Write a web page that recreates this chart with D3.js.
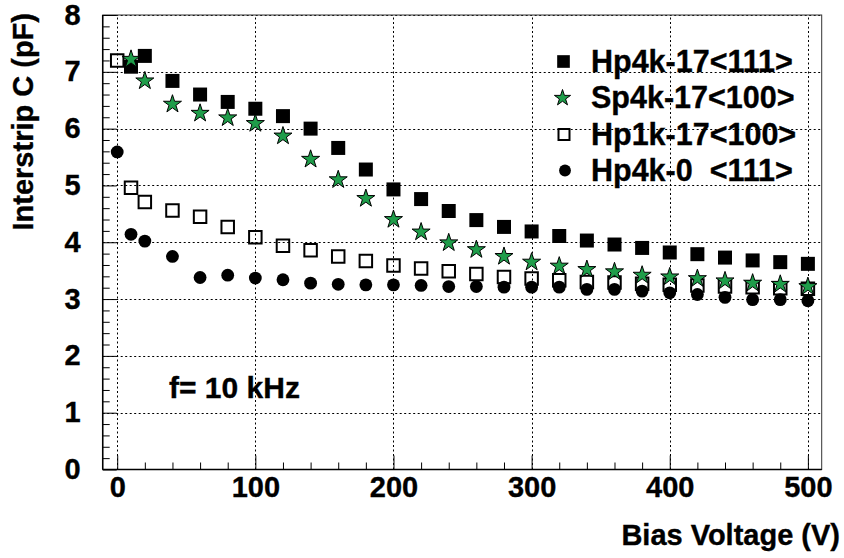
<!DOCTYPE html>
<html>
<head>
<meta charset="utf-8">
<script src="https://cdn.jsdelivr.net/npm/d3@7"></script>
<style>
  body { margin: 0; background: #fff; }
  text { font-family: "Liberation Sans", Arial, sans-serif; font-weight: bold; font-size: 29px;
         fill: #000; stroke: #000; stroke-width: 0.35px; }
</style>
</head>
<body>
<svg id="chart" width="844" height="558"></svg>
<script>
// Bias voltages (V) at which the interstrip capacitance was measured
const voltage = [0, 10, 20, 40, 60, 80, 100, 120, 140, 160, 180, 200, 220, 240, 260,
                 280, 300, 320, 340, 360, 380, 400, 420, 440, 460, 480, 500];
const voltageFrom10 = voltage.slice(1);

// Interstrip capacitance (pF) per sample
const hp4k17_111 = [7.09, 7.28, 6.84, 6.60, 6.47, 6.35, 6.22, 6.00, 5.66, 5.28, 4.93, 4.76, 4.55,
                    4.39, 4.27, 4.19, 4.11, 4.03, 3.96, 3.90, 3.82, 3.79, 3.73, 3.68, 3.65, 3.62];
const sp4k17_100 = [7.22, 6.84, 6.43, 6.27, 6.19, 6.09, 5.87, 5.46, 5.10, 4.77, 4.40, 4.18, 3.99,
                    3.87, 3.75, 3.65, 3.58, 3.52, 3.48, 3.42, 3.39, 3.36, 3.32, 3.28, 3.26, 3.22];
const hp1k17_100 = [7.20, 4.96, 4.71, 4.56, 4.45, 4.27, 4.09, 3.94, 3.86, 3.75, 3.67, 3.59, 3.54, 3.49,
                    3.44, 3.39, 3.36, 3.33, 3.30, 3.29, 3.27, 3.25, 3.24, 3.22, 3.21, 3.19, 3.18];
const hp4k0_111  = [5.59, 4.14, 4.02, 3.75, 3.38, 3.42, 3.37, 3.34, 3.28, 3.26, 3.25, 3.25, 3.24, 3.22,
                    3.22, 3.21, 3.21, 3.21, 3.17, 3.17, 3.14, 3.11, 3.08, 3.03, 2.99, 2.99, 2.97];

const seriesNames = ["Hp4k-17<111>", "Sp4k-17<100>", "Hp1k-17<100>", "Hp4k-0  <111>"];
const xMajorTicks = [0, 100, 200, 300, 400, 500];
const yMajorTicks = [0, 1, 2, 3, 4, 5, 6, 7, 8];
const xTitle = "Bias Voltage (V)";
const yTitle = "Interstrip C (pF)";
const note = "f= 10 kHz";

const svg = d3.select("#chart");
const x = d3.scaleLinear().domain([-10.5, 510]).range([102.7, 821.7]);
const y = d3.scaleLinear().domain([0, 8]).range([469.5, 15]);
const [x0, x1] = x.range();
const [yb, yt] = y.range();

// dotted grid
const grid = svg.append("g").attr("stroke", "#000").attr("stroke-width", 1)
  .attr("stroke-dasharray", "2,2.5");
grid.selectAll("line.v").data(xMajorTicks).join("line")
  .attr("x1", d => Math.round(x(d)) + 0.5).attr("x2", d => Math.round(x(d)) + 0.5)
  .attr("y1", yb).attr("y2", yt);
grid.selectAll("line.h").data(yMajorTicks.filter(d => d > 0)).join("line")
  .attr("x1", x0).attr("x2", x1)
  .attr("y1", d => Math.round(y(d)) + 0.5).attr("y2", d => Math.round(y(d)) + 0.5);

// frame
svg.append("rect").attr("x", x0).attr("y", yt).attr("width", x1 - x0).attr("height", yb - yt)
  .attr("fill", "none").attr("stroke", "#333").attr("stroke-width", 1);

// x axis: minor ticks every 20 V, major every 100 V (ticks point into the frame)
const xMinor = d3.range(0, 501, 20).filter(d => d % 100 !== 0);
svg.append("g").attr("transform", `translate(0,${yb})`)
  .call(d3.axisBottom(x).tickValues(xMinor).tickSize(-7).tickFormat(""))
  .call(g => g.select(".domain").remove());
const xAxis = svg.append("g").attr("transform", `translate(0,${yb})`)
  .call(d3.axisBottom(x).tickValues(xMajorTicks).tickSizeInner(-14).tickSizeOuter(0).tickPadding(7))
  .call(g => g.select(".domain").remove());
xAxis.selectAll("text").attr("font-size", null).attr("font-family", null);

// y axis: minor ticks every 0.2 pF
const yMinor = d3.range(0, 8.001, 0.2).filter(d => Math.abs(d - Math.round(d)) > 1e-6);
svg.append("g").attr("transform", `translate(${x0},0)`)
  .call(d3.axisLeft(y).tickValues(yMinor).tickSize(-7).tickFormat(""))
  .call(g => g.select(".domain").remove());
const yAxis = svg.append("g").attr("transform", `translate(${x0},0)`)
  .call(d3.axisLeft(y).tickValues(yMajorTicks).tickSizeInner(-14).tickSizeOuter(0).tickPadding(22))
  .call(g => g.select(".domain").remove());
yAxis.selectAll("text").attr("font-size", null).attr("font-family", null).attr("dy", "0.31em");
svg.selectAll(".tick line").attr("stroke", "#000");

// axis lines on left and bottom
svg.append("line").attr("x1", x0).attr("x2", x1).attr("y1", yb).attr("y2", yb)
  .attr("stroke", "#000").attr("stroke-width", 1.5);
svg.append("line").attr("x1", x0).attr("x2", x0).attr("y1", yb).attr("y2", yt)
  .attr("stroke", "#000").attr("stroke-width", 1.5);

// axis titles and annotation
svg.append("text").attr("x", 840).attr("y", 545).attr("text-anchor", "end").text(xTitle);
svg.append("text").attr("transform", "translate(33,13) rotate(-90)")
  .attr("text-anchor", "end").text(yTitle);
svg.append("text").attr("x", 169).attr("y", 398).style("font-size", "30px").text(note);

// marker styles
const styles = [
  { type: d3.symbolSquare, size: 196, lsize: 160, fill: "#000", stroke: "none", sw: 0 },
  { type: d3.symbolStar, size: 101, lsize: 81, fill: "#1f9d4a", stroke: "#000", sw: 1 },
  { type: d3.symbolSquare, size: 156, lsize: 121, fill: "none", stroke: "#000", sw: 2 },
  { type: d3.symbolCircle, size: 129, lsize: 110, fill: "#000", stroke: "none", sw: 0 }
];
// drawing order: filled squares, open squares, stars, circles
const series = [
  { xs: voltageFrom10, ys: hp4k17_111, style: 0 },
  { xs: voltage, ys: hp1k17_100, style: 2 },
  { xs: voltageFrom10, ys: sp4k17_100, style: 1 },
  { xs: voltage, ys: hp4k0_111, style: 3 }
];

series.forEach(s => {
  const st = styles[s.style];
  const pts = s.ys.map((v, i) => [s.xs[i], v]);
  svg.append("g").selectAll("path").data(pts).join("path")
    .attr("transform", d => `translate(${x(d[0])},${y(d[1])})`)
    .attr("d", d3.symbol(st.type, st.size))
    .attr("fill", st.fill).attr("stroke", st.stroke).attr("stroke-width", st.sw);
});

// legend
const legendBaselines = [71.5, 108, 144.5, 180.5];
const legendMarkerX = [563.5, 562.5, 564, 565];
const legend = svg.append("g");
seriesNames.forEach((name, i) => {
  const st = styles[i];
  legend.append("path")
    .attr("transform", `translate(${legendMarkerX[i]},${legendBaselines[i] - 10})`)
    .attr("d", d3.symbol(st.type, st.lsize))
    .attr("fill", st.fill).attr("stroke", st.stroke).attr("stroke-width", st.sw);
  legend.append("text").attr("x", 591).attr("y", legendBaselines[i])
    .style("font-size", "30.5px").style("white-space", "pre").text(name);
});
</script>
</body>
</html>
